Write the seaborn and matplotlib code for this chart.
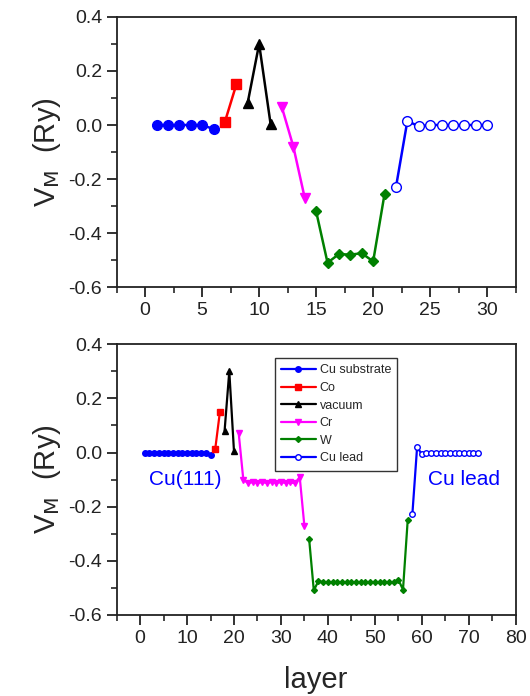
import numpy as np
import pandas as pd
import matplotlib
matplotlib.use("Agg")
import matplotlib.pyplot as plt
import seaborn as sns
from matplotlib.ticker import MultipleLocator

sns.set_style("ticks")
plt.rcParams['font.family'] = ['Liberation Sans', 'DejaVu Sans']

# 위쪽 패널 (얇은 구조)
top_cu_sub_x = [1, 2, 3, 4, 5, 6]
top_cu_sub_y = [0.0, 0.0, 0.0, 0.0, 0.0, -0.015]
top_co_x = [7, 8]
top_co_y = [0.012, 0.15]
top_vac_x = [9, 10, 11]
top_vac_y = [0.083, 0.30, 0.005]
top_cr_x = [12, 13, 14]
top_cr_y = [0.065, -0.08, -0.27]
top_w_x = [15, 16, 17, 18, 19, 20, 21]
top_w_y = [-0.32, -0.51, -0.478, -0.48, -0.475, -0.505, -0.255]
top_lead_x = [22, 23, 24, 25, 26, 27, 28, 29, 30]
top_lead_y = [-0.23, 0.015, -0.005, 0.0, 0.0, 0.0, 0.0, 0.0, 0.0]

# 아래쪽 패널 (두꺼운 구조)
bot_cu_sub_x = [1, 2, 3, 4, 5, 6, 7, 8, 9, 10, 11, 12, 13, 14, 15]
bot_cu_sub_y = [0.0, 0.0, 0.0, 0.0, 0.0, 0.0, 0.0, 0.0, 0.0, 0.0, 0.0, 0.0, 0.0, 0.0, -0.01]
bot_co_x = [16, 17]
bot_co_y = [0.012, 0.15]
bot_vac_x = [18, 19, 20]
bot_vac_y = [0.08, 0.30, 0.005]
bot_cr_x = [21, 22, 23, 24, 25, 26, 27, 28, 29, 30, 31, 32, 33, 34, 35]
bot_cr_y = [0.072, -0.102, -0.112, -0.110, -0.112, -0.110, -0.112, -0.110,
            -0.112, -0.110, -0.112, -0.110, -0.114, -0.09, -0.272]
bot_w_x = [36, 37, 38, 39, 40, 41, 42, 43, 44, 45, 46, 47, 48, 49, 50, 51,
           52, 53, 54, 55, 56, 57]
bot_w_y = [-0.318, -0.509, -0.474, -0.48, -0.48, -0.48, -0.48, -0.48, -0.48,
           -0.48, -0.48, -0.48, -0.48, -0.48, -0.48, -0.48, -0.48, -0.48,
           -0.48, -0.47, -0.506, -0.25]
bot_lead_x = [58, 59, 60, 61, 62, 63, 64, 65, 66, 67, 68, 69, 70, 71, 72]
bot_lead_y = [-0.226, 0.02, -0.006, 0.0, 0.0, 0.0, 0.0, 0.0, 0.0, 0.0, 0.0,
              0.0, 0.0, 0.0, 0.0]

labels = ["Cu substrate", "Co", "vacuum", "Cr", "W", "Cu lead"]
colors = ["#0000ff", "#ff0000", "#000000", "#ff00ff", "#008000", "#0000ff"]
markers = ["o", "s", "^", "v", "D", "o"]

top_series = [(top_cu_sub_x, top_cu_sub_y), (top_co_x, top_co_y),
              (top_vac_x, top_vac_y), (top_cr_x, top_cr_y),
              (top_w_x, top_w_y), (top_lead_x, top_lead_y)]
bot_series = [(bot_cu_sub_x, bot_cu_sub_y), (bot_co_x, bot_co_y),
              (bot_vac_x, bot_vac_y), (bot_cr_x, bot_cr_y),
              (bot_w_x, bot_w_y), (bot_lead_x, bot_lead_y)]

fig = plt.figure(figsize=(5.3, 6.96), dpi=100)
ax1 = fig.add_axes([0.220, 0.5876, 0.753, 0.388])
ax2 = fig.add_axes([0.220, 0.1164, 0.753, 0.389])


def draw(ax, series, msize, lw):
    for (x, y), lab, c, m in zip(series, labels, colors, markers):
        df = pd.DataFrame({"layer": x, "vm": y})
        face = "white" if lab == "Cu lead" else c
        ms = msize * 0.75 if m == "D" else msize
        sns.lineplot(data=df, x="layer", y="vm", ax=ax, color=c, marker=m,
                     markersize=ms, markerfacecolor=face, markeredgecolor=c,
                     markeredgewidth=1.0, linewidth=lw, label=lab,
                     legend=False)


draw(ax1, top_series, 7.0, 1.8)
draw(ax2, bot_series, 4.0, 1.6)

ax1.set_xlim(-2.5, 32.5)
ax1.xaxis.set_major_locator(MultipleLocator(5))
ax1.xaxis.set_minor_locator(MultipleLocator(2.5))
ax2.set_xlim(-5, 80)
ax2.xaxis.set_major_locator(MultipleLocator(10))
ax2.xaxis.set_minor_locator(MultipleLocator(5))

for ax in (ax1, ax2):
    ax.set_ylim(-0.6, 0.4)
    ax.yaxis.set_major_locator(MultipleLocator(0.2))
    ax.yaxis.set_minor_locator(MultipleLocator(0.1))
    ax.yaxis.set_major_formatter(plt.FuncFormatter(lambda v, p: f"{v:.1f}"))
    ax.tick_params(which="major", direction="out", length=7, width=1.3,
                   labelsize=14, colors="#222222", top=False, right=False)
    ax.tick_params(which="minor", direction="out", length=4, width=1.2,
                   top=False, right=False)
    for s in ax.spines.values():
        s.set_visible(True)
        s.set_linewidth(1.3)
        s.set_color("#222222")
    ax.set_ylabel(r"V$_{\mathrm{M}}$  (Ry)", fontsize=21, labelpad=4)
    ax.set_xlabel("")

ax2.set_xlabel("layer", fontsize=21, labelpad=14)

ax2.text(9.7, -0.10, "Cu(111)", color="#0000ff", fontsize=15,
         ha="center", va="center")
ax2.text(69, -0.10, "Cu lead", color="#0000ff", fontsize=15,
         ha="center", va="center")

leg = ax2.legend(loc="upper left", bbox_to_anchor=(0.38, 0.972),
                 fontsize=9, frameon=True, fancybox=False,
                 edgecolor="black", labelspacing=0.45, handlelength=2.8,
                 handletextpad=0.3, borderpad=0.5, markerscale=1.0)
leg.get_frame().set_linewidth(1.0)

fig.savefig("out.png", dpi=100)
